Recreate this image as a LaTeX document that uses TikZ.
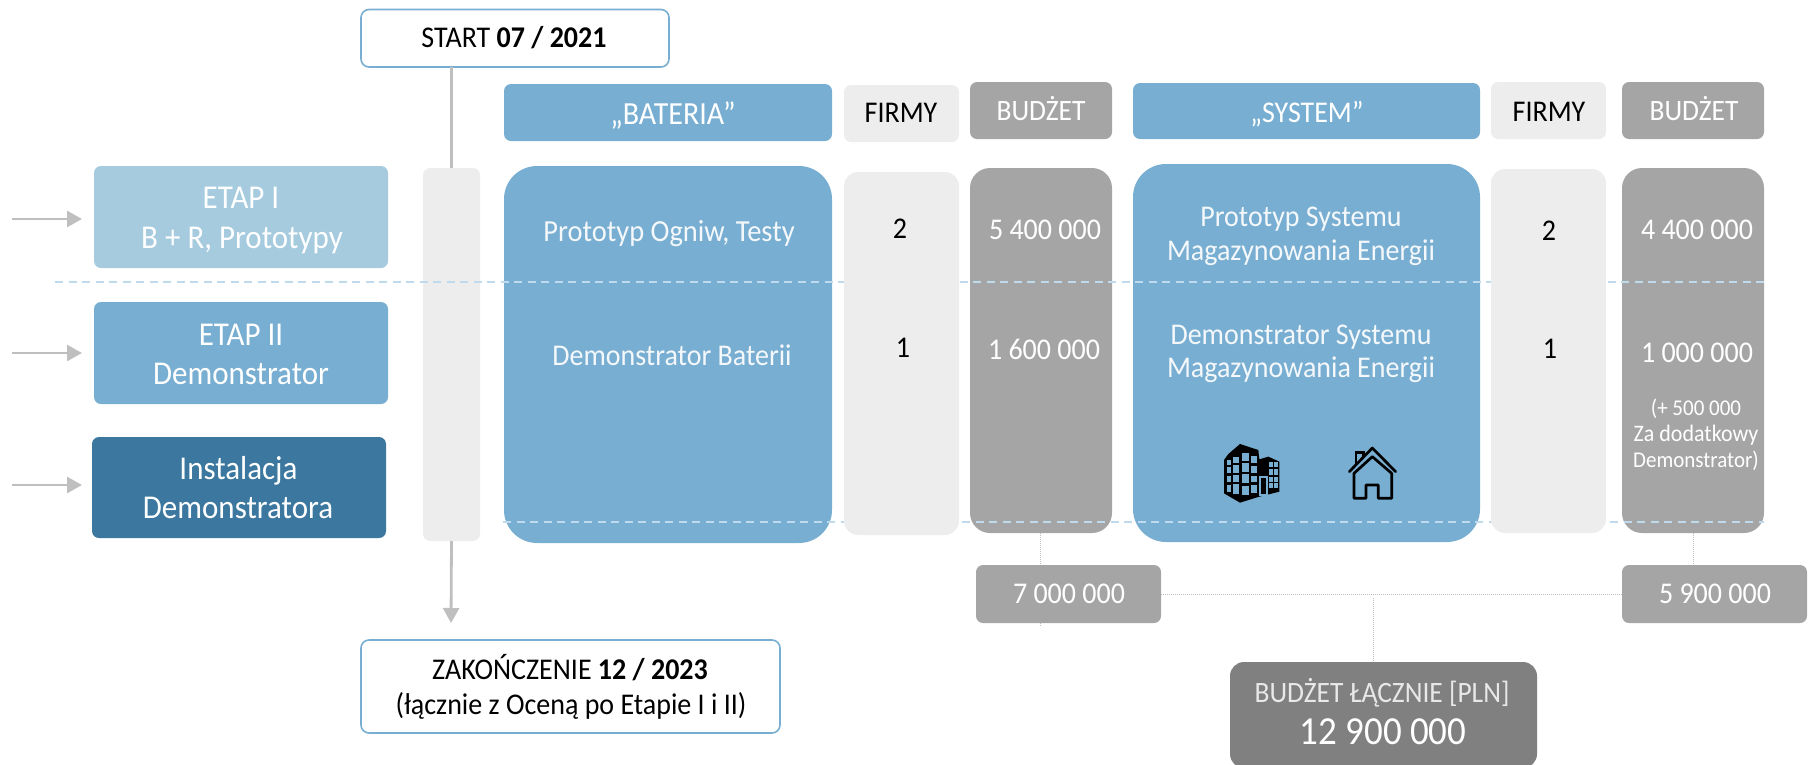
\documentclass[tikz,border=0pt]{standalone}
\usepackage{fontspec}
\setmainfont[FakeStretch=0.93]{Carlito}
\usetikzlibrary{arrows.meta}
\pgfdeclarelayer{under}
\pgfsetlayers{under,main}
\definecolor{blueA}{HTML}{78AED1}
\definecolor{blueL}{HTML}{A6CBDF}
\definecolor{blueD}{HTML}{3B779E}
\definecolor{grayB}{HTML}{A5A5A5}
\definecolor{grayL}{HTML}{EDEDED}
\definecolor{grayD}{HTML}{808080}
\definecolor{arrowG}{HTML}{BFBFBF}
\definecolor{dashB}{HTML}{BFDAEC}
\definecolor{txtL}{HTML}{F4F8FB}
\definecolor{txtG}{HTML}{E8E8E8}
\tikzset{
  boxbase/.style={rectangle,inner sep=0pt,outer sep=0pt,draw=none},
  small/.style={rounded corners=7pt},
  mid/.style={rounded corners=14pt},
  big/.style={rounded corners=20pt},
  huge/.style={rounded corners=33pt},
  outlined/.style={fill=white,draw=blueA,line width=1.6pt,rounded corners=8pt},
  lab/.style={inner sep=0pt,outer sep=0pt,anchor=base},
  flow/.style={draw=arrowG,line width=2.8pt,-{Triangle[length=15pt,width=16pt]}},
  plainline/.style={draw=arrowG,line width=2.8pt},
  rowdash/.style={draw=dashB,line width=1.5pt,dash pattern=on 8pt off 5.5pt},
  thinline/.style={draw=arrowG,line width=0.8pt,dash pattern=on 1pt off 1pt}
}
\newcommand\bx[6]{\node[boxbase,#6,minimum width={#4-#2},minimum height={#5-#3}] (#1) at ({(#2+#4)/2},{(#3+#5)/2}) {};}
\newcommand\lab[6]{\pgfmathsetmacro\fsz{#4*1.075}\node[lab,text=#5,font=\fontsize{\fsz}{\fsz}\selectfont] (#1) at ({#2},{#3+0.32*\fsz}) {#6};}
\begin{document}
\begin{tikzpicture}[x=1pt,y=-1pt]
\useasboundingbox (0,0) rectangle (1808,764);
% free ends
\coordinate (a1s) at (12,219); \coordinate (a1e) at (82,219);
\coordinate (a2s) at (12,353); \coordinate (a2e) at (82,353);
\coordinate (a3s) at (12,485); \coordinate (a3e) at (82,485);
\coordinate (endtip) at (451,623);
\coordinate (d1s) at (55,282); \coordinate (d1e) at (1764,282);
\coordinate (d2s) at (503,522); \coordinate (d2e) at (1764,522);
\coordinate (v1s) at (1040,533); \coordinate (v1e) at (1040,626);
\coordinate (sumtop) at (1373,598);
% budget boxes
\bx{b1body}{970}{168}{1112}{533}{fill=grayB,big}
\bx{b2body}{1622}{168}{1764}{533}{fill=grayB,big}
\bx{sum1}{976}{565}{1161}{623}{fill=grayB,small}
\bx{sum2}{1622}{565}{1807}{623}{fill=grayB,small}
\bx{total}{1230}{662}{1537}{768}{fill=grayD,rounded corners=14pt}
\begin{pgfonlayer}{under}
\draw[thinline] (v1s) -- (v1e);
\draw[thinline] (b2body.south) -- (sum2.north -| b2body.south);
\draw[thinline] (sum1.east) -- (sum2.west);
\draw[thinline] (sumtop) -- (total.north -| sumtop);
\end{pgfonlayer}
% left column
\bx{etap1}{94}{166}{388}{268}{fill=blueL,small}
\bx{etap2}{94}{302}{388}{404}{fill=blueA,small}
\bx{inst}{92}{437}{386}{538}{fill=blueD,small}
\draw[flow] (a1s) -- (a1e);
\draw[flow] (a2s) -- (a2e);
\draw[flow] (a3s) -- (a3e);
% timeline
\bx{bar}{423}{168}{480}{541}{fill=grayL,small}
\bx{start}{361}{9.5}{669}{67}{outlined}
\bx{finish}{361}{640}{780}{733}{outlined}
\draw[plainline] (start.south -| bar.north) -- (bar.north);
\draw[flow] (bar.south) -- (endtip);
% headers
\bx{hbat}{504}{84}{832}{141}{fill=blueA,small}
\bx{hf1}{844}{85}{959}{142}{fill=grayL,small}
\bx{hb1}{970}{82}{1112}{139}{fill=grayB,small}
\bx{hsys}{1133}{83}{1480}{139}{fill=blueA,small}
\bx{hf2}{1491}{82}{1606}{139}{fill=grayL,small}
\bx{hb2}{1622}{82}{1764}{139}{fill=grayB,small}
% bodies
\bx{bat}{504}{166}{832}{543}{fill=blueA,huge}
\bx{sys}{1133}{164}{1480}{542}{fill=blueA,huge}
% row dashes
\draw[rowdash] (d1s) -- (d1e);
\draw[rowdash] (d2s) -- (d2e);
\bx{f1}{844}{172}{959}{535}{fill=grayL,mid}
\bx{f2}{1491}{169}{1606}{533}{fill=grayL,mid}
% building icon
\begin{scope}[shift={(1200,430)},x=0.3333pt,y=-0.3333pt]
\fill[black] (72,90) -- (85,72) -- (120,42) -- (175,60) -- (178,88) -- (205,80) -- (238,95) -- (238,185) -- (178,200) -- (120,218) -- (72,190) -- cycle;
\foreach \xa/\xb/\ya/\yb/\yc/\yd in {
 80/92/90/105/112/130, 99/118/80/100/105/128, 125/147/70/93/100/125, 153/172/78/100/107/128,
 207/218/95/112/118/135, 222/234/96/112/118/135}
 { \fill[blueA] (\xa,\ya) rectangle (\xb,\yb); \fill[blueA] (\xa,\yc) rectangle (\xb,\yd); }
\foreach \xa/\xb/\ya/\yb/\yc/\yd in {
 80/92/137/157/165/185, 99/118/135/157/163/192, 125/147/133/158/167/195, 153/172/137/157/165/188,
 207/218/140/155/158/175, 222/234/140/155/158/175}
 { \fill[blueA] (\xa,\ya) rectangle (\xb,\yb); \fill[blueA] (\xa,\yc) rectangle (\xb,\yd); }
\fill[blueA] (177,137) rectangle (204,197);
\fill[black] (182,143) rectangle (199,192);
% house icon
\draw[black,line width=2.7pt,line join=round,line cap=round] (448,125) -- (517,54) -- (587,125);
\draw[black,line width=2.7pt,line join=round] (462,205) -- (462,130) -- (517,80) -- (575,130) -- (575,205) -- (535,205) -- (535,165) -- (498,165) -- (498,205) -- cycle;
\draw[black,line width=2.7pt,line join=miter] (468,102) -- (468,68) -- (490,68) -- (490,80);
\end{scope}
% texts
\lab{tstart}{514}{38}{28}{black}{START \textbf{07 / 2021}}
\lab{tfin1}{570}{670}{28}{black}{ZAKOŃCZENIE \textbf{12 / 2023}}
\lab{tfin2}{571}{705}{28}{black}{(łącznie z Oceną po Etapie I i II)}
\lab{te1a}{241}{198}{31}{white}{ETAP I}
\lab{te1b}{242}{238}{31}{white}{B + R, Prototypy}
\lab{te2a}{241}{335}{31}{white}{ETAP II}
\lab{te2b}{241}{374}{31}{white}{Demonstrator}
\lab{te3a}{238.5}{469}{31}{white}{Instalacja}
\lab{te3b}{238}{508}{31}{white}{Demonstratora}
\lab{thbat}{673}{114}{30}{white}{„BATERIA”}
\lab{thf1}{901}{113}{28}{black}{FIRMY}
\lab{thb1}{1041}{111}{27.5}{white}{BUDŻET}
\lab{thsys}{1307}{113}{28}{white}{„SYSTEM”}
\lab{thf2}{1549}{112}{28}{black}{FIRMY}
\lab{thb2}{1694}{111}{27.5}{white}{BUDŻET}
\lab{tb1}{669}{232}{28.5}{txtL}{Prototyp Ogniw, Testy}
\lab{tb2}{672}{356}{28}{txtL}{Demonstrator Baterii}
\lab{ts1a}{1301}{217}{28}{txtL}{Prototyp Systemu}
\lab{ts1b}{1301}{251}{28}{txtL}{Magazynowania Energii}
\lab{ts2a}{1301}{335}{28}{txtL}{Demonstrator Systemu}
\lab{ts2b}{1301}{368}{28}{txtL}{Magazynowania Energii}
\lab{tf1a}{900}{229}{28}{black}{2}
\lab{tf1b}{903}{348}{28}{black}{1}
\lab{tf2a}{1549}{231}{28}{black}{2}
\lab{tf2b}{1550}{349}{28}{black}{1}
\lab{tm1}{1045}{230}{28}{white}{5 400 000}
\lab{tm2}{1044}{350}{28}{white}{1 600 000}
\lab{tm3}{1697}{230}{28}{white}{4 400 000}
\lab{tm4}{1697}{353}{28}{white}{1 000 000}
\lab{tn1}{1696}{408}{21}{white}{(+ 500 000}
\lab{tn2}{1696}{434}{22}{white}{Za dodatkowy}
\lab{tn3}{1696}{460}{21}{white}{Demonstrator)}
\lab{tsum1}{1069}{594}{28}{white}{7 000 000}
\lab{tsum2}{1715}{594}{28}{white}{5 900 000}
\lab{ttot1}{1382}{693}{27.5}{txtG}{BUDŻET ŁĄCZNIE [PLN]}
\lab{ttot2}{1383}{732}{37}{white}{12 900 000}
\end{tikzpicture}
\end{document}
